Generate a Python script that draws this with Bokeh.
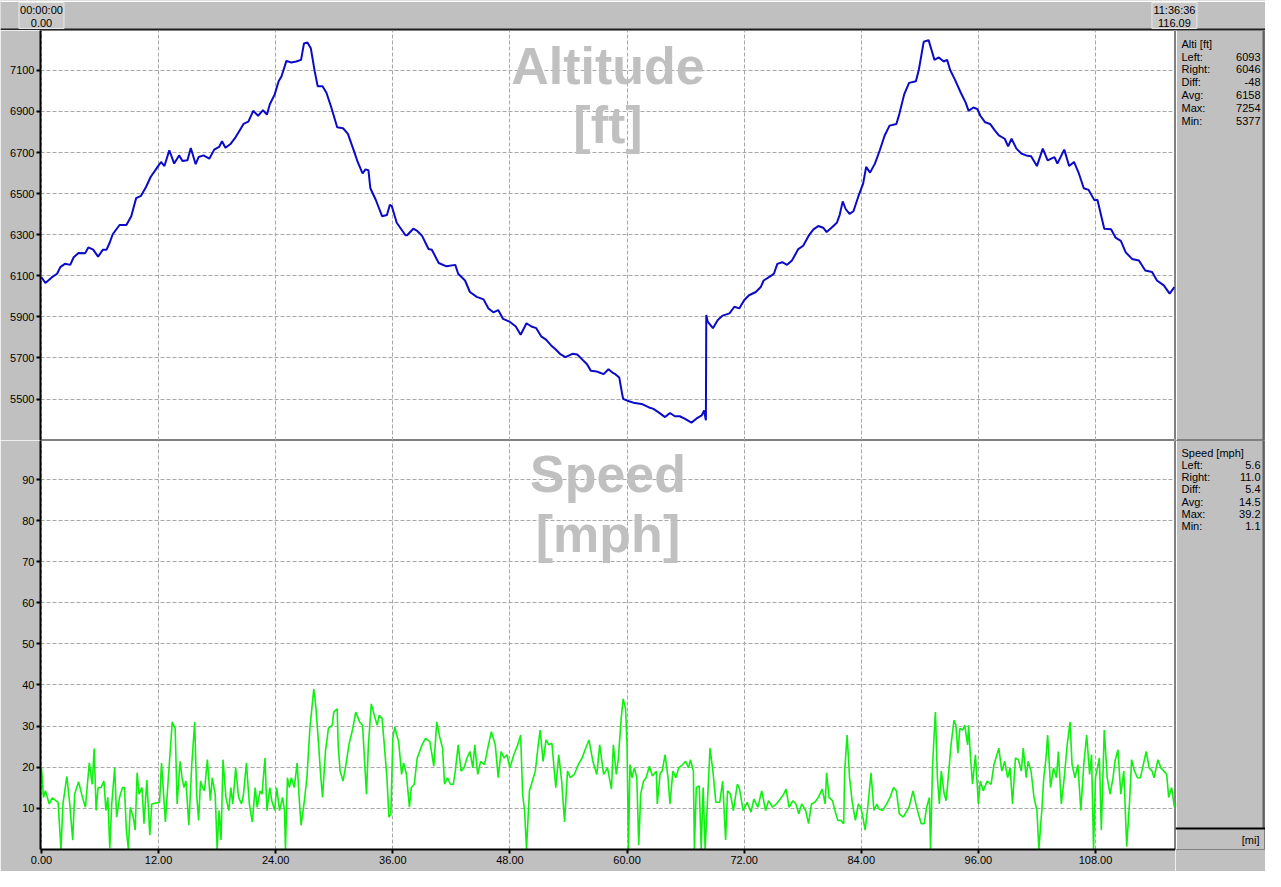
import numpy as np
from bokeh.plotting import figure
from bokeh.layouts import column, row
from bokeh.models import Range1d, FixedTicker, NumeralTickFormatter
from bokeh.core.properties import value
from bokeh.embed import file_html
from bokeh.resources import INLINE

# ---------------- data ----------------
alt_mi = [0.0, 0.4, 1.08, 1.6, 1.93, 2.4, 2.95, 3.3, 3.8, 4.47, 4.8, 5.3, 5.8, 6.3, 6.67, 7.0, 7.3, 8.0, 8.7, 9.2,
          9.7, 10.2, 10.7, 11.2, 11.9, 12.25, 12.6, 13.1, 13.6, 14.1, 14.45, 14.96, 15.3, 15.8, 16.1, 16.6, 17.2,
          17.7, 18.2, 18.5, 18.85, 19.4, 19.9, 20.4, 20.7, 21.2, 21.7, 22.2, 22.7, 23.1, 23.4, 23.9, 24.3, 24.6,
          25.1, 25.6, 26.1, 26.6, 26.9, 27.25, 27.6, 28.0, 28.3, 28.8, 29.2, 29.7, 30.3, 30.9, 31.4, 32.05, 32.4,
          32.9, 33.2, 33.5, 33.7, 34.25, 34.9, 35.4, 35.7, 35.9, 36.4, 37.3, 37.46, 38.1, 38.5, 39.0, 39.66, 40.0,
          40.7, 41.5, 42.4, 42.7, 43.4, 43.9, 44.6, 45.3, 45.8, 46.3, 46.8, 47.3, 47.95, 48.6, 49.1, 49.7, 50.2,
          50.7, 51.2, 51.7, 52.2, 52.7, 53.2, 53.7, 54.4, 54.9, 55.4, 55.9, 56.3, 56.9, 57.6, 58.1, 58.5, 58.8,
          59.2, 59.5, 59.6, 60.2, 60.8, 61.5, 62.2, 62.7, 63.2, 63.9, 64.4, 64.9, 65.4, 65.9, 66.6, 67.1, 67.65,
          67.9, 68.08, 68.12, 68.26, 68.8, 69.3, 69.8, 70.5, 71.0, 71.5, 72.0, 72.5, 73.2, 73.7, 74.0, 74.7, 75.05,
          75.4, 75.9, 76.4, 76.9, 77.55, 78.05, 78.6, 79.1, 79.6, 80.1, 80.45, 80.95, 81.5, 81.8, 82.1, 82.4, 82.8,
          83.2, 83.7, 84.2, 84.5, 84.9, 85.4, 85.9, 86.4, 86.9, 87.6, 87.9, 88.4, 88.9, 89.6, 89.9, 90.4, 90.9,
          91.3, 91.5, 91.95, 92.45, 92.8, 93.1, 93.6, 94.2, 94.7, 95.0, 95.5, 95.9, 96.2, 96.7, 97.2, 97.7, 98.1,
          98.7, 99.05, 99.4, 99.9, 100.4, 100.9, 101.4, 102.0, 102.6, 103.1, 103.8, 104.1, 104.8, 105.3, 105.8,
          106.3, 106.8, 107.3, 107.9, 108.2, 108.9, 109.6, 110.05, 110.6, 111.1, 111.75, 112.45, 113.1, 113.8,
          114.3, 115.0, 115.6, 116.09]
alt_ft = [6093, 6065, 6093, 6110, 6142, 6158, 6153, 6190, 6211, 6209, 6238, 6227, 6193, 6227, 6227, 6262, 6302,
          6347, 6347, 6390, 6478, 6489, 6531, 6582, 6630, 6654, 6634, 6711, 6646, 6686, 6659, 6662, 6722, 6643,
          6678, 6686, 6670, 6714, 6727, 6755, 6723, 6743, 6775, 6815, 6839, 6850, 6903, 6879, 6906, 6884, 6935,
          6983, 7047, 7071, 7146, 7138, 7143, 7151, 7231, 7236, 7207, 7095, 7023, 7023, 6991, 6919, 6823, 6818,
          6791, 6703, 6654, 6598, 6618, 6614, 6526, 6470, 6390, 6396, 6446, 6438, 6358, 6297, 6297, 6329, 6318,
          6294, 6230, 6227, 6162, 6146, 6153, 6110, 6077, 6021, 5997, 5985, 5941, 5922, 5933, 5890, 5877, 5853,
          5813, 5869, 5853, 5845, 5805, 5789, 5762, 5741, 5717, 5704, 5720, 5717, 5693, 5669, 5637, 5634, 5621,
          5645, 5629, 5621, 5605, 5525, 5501, 5489, 5480, 5476, 5460, 5452, 5436, 5412, 5432, 5416, 5416, 5404,
          5385, 5404, 5420, 5444, 5396, 5909, 5877, 5845, 5885, 5906, 5917, 5949, 5941, 5981, 6005, 6021, 6045,
          6077, 6098, 6110, 6158, 6166, 6153, 6174, 6230, 6246, 6294, 6326, 6342, 6334, 6313, 6334, 6358, 6398,
          6462, 6425, 6401, 6414, 6486, 6550, 6630, 6602, 6646, 6711, 6783, 6831, 6839, 6887, 6983, 7039, 7047,
          7103, 7239, 7247, 7183, 7151, 7163, 7143, 7151, 7103, 7055, 6991, 6943, 6903, 6919, 6911, 6879, 6847,
          6839, 6807, 6783, 6767, 6730, 6767, 6719, 6695, 6686, 6682, 6634, 6719, 6662, 6678, 6646, 6714, 6634,
          6654, 6598, 6526, 6518, 6467, 6470, 6329, 6326, 6286, 6270, 6214, 6182, 6174, 6126, 6118, 6077, 6053,
          6013, 6045]

spd_mi = [0.0, 0.2, 0.4, 0.8, 1.1, 1.7, 2.0, 2.2, 2.6, 2.9, 3.2, 3.4, 3.8, 4.2, 4.5, 4.9, 5.2, 5.4, 5.6, 5.8, 6.1,
          6.4, 6.6, 6.8, 7.0, 7.2, 7.5, 7.7, 8.0, 8.3, 8.5, 8.7, 8.9, 9.1, 9.4, 9.6, 9.8, 10.0, 10.3, 10.5, 10.8,
          11.1, 11.3, 11.7, 12.1, 12.3, 12.7, 13.0, 13.4, 13.7, 13.9, 14.2, 14.4, 14.6, 14.8, 15.1, 15.4, 15.7,
          15.9, 16.1, 16.3, 16.5, 16.7, 17.0, 17.3, 17.5, 17.8, 18.0, 18.2, 18.4, 18.6, 18.9, 19.2, 19.4, 19.6,
          19.9, 20.2, 20.5, 20.7, 21.0, 21.3, 21.6, 21.9, 22.1, 22.4, 22.6, 22.9, 23.1, 23.4, 23.6, 23.9, 24.1,
          24.4, 24.7, 24.9, 25.0, 25.2, 25.4, 25.6, 25.9, 26.2, 26.4, 26.6, 26.9, 27.2, 27.5, 27.9, 28.1, 28.4,
          28.6, 28.8, 29.1, 29.4, 29.8, 29.95, 30.3, 30.4, 30.6, 30.9, 31.2, 31.5, 31.9, 32.2, 32.6, 32.9, 33.3,
          33.5, 33.8, 34.1, 34.4, 34.6, 34.9, 35.1, 35.4, 35.6, 35.8, 36.0, 36.2, 36.4, 36.6, 36.9, 37.1, 37.4,
          37.7, 37.9, 38.2, 38.5, 39.0, 39.35, 39.8, 40.2, 40.5, 40.8, 41.1, 41.3, 41.6, 41.9, 42.2, 42.4, 42.7,
          43.0, 43.3, 43.6, 43.9, 44.2, 44.4, 44.7, 45.0, 45.4, 45.8, 46.1, 46.5, 46.8, 47.1, 47.4, 47.7, 48.0,
          48.4, 48.8, 49.1, 49.3, 49.5, 49.7, 50.0, 50.3, 50.6, 50.9, 51.1, 51.4, 51.7, 52.0, 52.3, 52.7, 53.0,
          53.3, 53.6, 53.9, 54.2, 54.6, 55.0, 55.4, 55.7, 56.1, 56.5, 56.9, 57.2, 57.6, 58.0, 58.4, 58.6, 58.9,
          59.1, 59.4, 59.6, 59.85, 60.0, 60.15, 60.3, 60.5, 60.75, 61.0, 61.2, 61.4, 61.7, 61.95, 62.3, 62.6, 63.0,
          63.1, 63.4, 63.6, 63.9, 64.2, 64.4, 64.7, 65.0, 65.3, 65.7, 66.0, 66.3, 66.5, 66.8, 66.9, 67.1, 67.4,
          67.6, 67.8, 68.0, 68.2, 68.5, 68.8, 69.1, 69.5, 69.8, 70.1, 70.3, 70.6, 70.9, 71.3, 71.5, 71.9, 72.3,
          72.7, 73.0, 73.4, 73.8, 74.2, 74.5, 74.9, 75.3, 75.7, 76.05, 76.3, 76.6, 77.0, 77.3, 77.6, 77.9, 78.3,
          78.6, 78.9, 79.25, 79.6, 80.0, 80.3, 80.45, 80.7, 81.05, 81.3, 81.6, 81.9, 82.2, 82.3, 82.55, 82.8,
          83.1, 83.4, 83.7, 83.95, 84.1, 84.4, 84.7, 85.0, 85.3, 85.6, 85.8, 86.2, 86.6, 86.95, 87.3, 87.6, 87.9,
          88.3, 88.7, 88.9, 89.3, 89.6, 89.85, 90.15, 90.45, 90.7, 90.98, 91.1, 91.3, 91.5, 91.6, 91.8, 92.0,
          92.2, 92.5, 92.7, 93.0, 93.2, 93.5, 93.7, 93.9, 94.1, 94.4, 94.6, 94.9, 95.0, 95.2, 95.4, 95.7, 96.0,
          96.2, 96.5, 96.9, 97.3, 97.6, 97.8, 98.1, 98.4, 98.7, 99.0, 99.25, 99.5, 99.8, 100.1, 100.4, 100.6,
          100.9, 101.1, 101.4, 101.7, 102.0, 102.2, 102.5, 102.7, 102.9, 103.1, 103.4, 103.7, 104.0, 104.2,
          104.5, 104.8, 105.1, 105.4, 105.6, 105.9, 106.2, 106.5, 106.8, 107.1, 107.4, 107.6, 107.8, 108.0,
          108.4, 108.6, 108.9, 109.2, 109.5, 109.8, 110.0, 110.3, 110.6, 110.9, 111.2, 111.5, 111.7, 112.0,
          112.3, 112.6, 112.9, 113.2, 113.5, 113.8, 114.0, 114.4, 114.7, 115.0, 115.3, 115.5, 115.8, 116.09]
spd_mph = [19.8, 12.6, 14.2, 11.0, 12.5, 11.4, 0.0, 11.0, 17.7, 11.0, 2.2, 13.4, 16.4, 12.6, 10.2, 21.0, 15.8,
           24.5, 9.4, 15.0, 15.0, 16.6, 9.4, 12.6, 0.2, 11.0, 19.8, 7.8, 12.6, 15.0, 15.0, 4.6, 0.0, 10.2, 7.8,
           4.6, 18.6, 13.4, 15.0, 6.2, 16.8, 3.4, 11.0, 11.2, 11.4, 21.0, 6.6, 17.4, 31.0, 29.4, 11.0, 21.4, 17.4,
           15.0, 16.6, 5.8, 20.6, 31.0, 13.4, 7.0, 16.6, 15.0, 14.2, 21.8, 11.8, 17.4, 13.4, 0.0, 9.4, 2.2, 21.8,
           12.6, 9.4, 15.0, 11.0, 19.8, 12.6, 11.0, 13.4, 21.0, 11.0, 6.6, 15.0, 10.2, 14.2, 13.4, 22.2, 9.4,
           15.0, 11.8, 9.4, 15.0, 9.4, 12.6, 9.4, 0.0, 17.4, 15.0, 17.4, 15.0, 21.0, 12.6, 5.8, 11.0, 17.4, 29.4,
           39.0, 35.0, 25.4, 18.2, 12.6, 23.8, 29.4, 30.2, 33.4, 34.2, 25.4, 19.0, 16.6, 20.6, 25.4, 29.4, 33.4,
           31.0, 30.2, 13.4, 25.4, 35.4, 32.6, 30.2, 32.6, 31.8, 26.2, 17.4, 7.8, 8.6, 27.0, 29.8, 27.8, 26.2,
           18.2, 21.0, 18.2, 10.2, 15.0, 15.8, 22.2, 25.4, 27.0, 26.2, 20.2, 31.0, 27.4, 24.6, 15.8, 17.4, 15.8,
           15.8, 19.0, 25.4, 19.0, 19.8, 22.2, 23.8, 19.8, 25.4, 18.2, 21.4, 20.6, 25.4, 28.6, 25.4, 17.4, 23.8,
           22.2, 23.0, 19.8, 23.0, 25.4, 27.8, 13.4, 9.4, 0.0, 14.2, 16.6, 19.0, 25.4, 29.0, 21.4, 26.6, 25.4,
           25.8, 15.0, 23.0, 16.6, 6.6, 19.0, 17.4, 18.2, 20.6, 22.2, 24.2, 26.6, 21.4, 18.2, 25.4, 18.2, 19.8,
           14.6, 25.4, 18.2, 21.8, 31.8, 36.6, 34.2, 25.4, 0.0, 20.6, 17.4, 19.8, 17.4, 1.0, 13.4, 16.6, 17.4,
           20.2, 17.8, 19.0, 11.0, 18.6, 19.0, 23.0, 17.4, 11.0, 19.0, 17.4, 19.8, 20.6, 21.4, 19.8, 21.8, 19.0,
           0.0, 15.0, 15.4, 0.0, 15.0, 0.0, 9.4, 24.6, 19.0, 11.4, 11.4, 16.6, 2.2, 14.2, 13.4, 9.4, 15.8, 15.0,
           9.4, 11.4, 9.0, 12.2, 10.2, 14.2, 9.4, 11.8, 10.2, 11.0, 12.2, 13.4, 14.6, 10.2, 11.8, 11.0, 8.6, 11.0,
           9.4, 6.2, 11.0, 11.4, 12.6, 14.6, 11.0, 18.6, 12.6, 11.8, 9.4, 7.0, 7.0, 6.2, 19.0, 27.8, 17.4, 11.0,
           7.0, 11.0, 10.2, 8.6, 4.6, 11.0, 18.6, 9.4, 11.0, 9.8, 9.4, 11.0, 12.6, 15.0, 14.2, 8.6, 7.8, 9.4,
           10.2, 14.2, 11.0, 8.6, 6.2, 6.2, 10.2, 12.6, 0.0, 19.8, 29.4, 33.4, 17.4, 11.0, 19.0, 13.4, 11.8, 19.8,
           25.4, 31.4, 30.2, 23.4, 29.4, 29.0, 30.2, 25.4, 30.2, 22.2, 15.8, 23.0, 11.0, 16.6, 14.2, 16.6, 15.8,
           20.6, 22.2, 24.6, 19.0, 21.4, 17.4, 19.8, 11.0, 22.2, 21.8, 19.0, 24.6, 17.4, 21.4, 19.0, 12.6, 9.4,
           0.0, 9.4, 17.4, 21.4, 27.8, 15.0, 19.8, 17.4, 23.8, 11.0, 17.4, 25.4, 31.0, 20.6, 17.4, 20.6, 9.4,
           20.6, 27.8, 18.2, 23.0, 0.0, 17.4, 22.2, 4.6, 29.0, 17.4, 13.4, 17.4, 21.4, 24.2, 13.4, 19.0, 0.6,
           11.8, 21.8, 19.0, 17.4, 17.4, 20.6, 23.8, 19.8, 19.0, 17.4, 21.8, 19.8, 19.0, 18.2, 12.6, 15.0, 10.2]

x_ticks = [0, 12, 24, 36, 48, 60, 72, 84, 96, 108]
alt_ticks = [5500, 5700, 5900, 6100, 6300, 6500, 6700, 6900, 7100]
spd_ticks = [10, 20, 30, 40, 50, 60, 70, 80, 90]

stat_names = ["Left:", "Right:", "Diff:", "Avg:", "Max:", "Min:"]
alt_stat_vals = ["6093", "6046", "-48", "6158", "7254", "5377"]
spd_stat_vals = ["5.6", "11.0", "5.4", "14.5", "39.2", "1.1"]
cursor_x = [0.0, 116.09]
cursor_time = ["00:00:00", "11:36:36"]
cursor_dist = ["0.00", "116.09"]

# ---------------- layout constants ----------------
W = 1265
LEFT = 40
RIGHT = 90
PW = W - LEFT - RIGHT
TOP_H = 30
ALT_H = 410
SPD_H = 409
AX_H = 22
GRAY = "#c0c0c0"
FONT = value("Liberation Sans")
X0, X1 = -0.1, 116.2

xr = Range1d(X0, X1)


def base_plot(height, yr, bottom):
    p = figure(width=LEFT + PW, height=height, x_range=xr, y_range=yr,
               x_axis_location="below" if bottom else None,
               toolbar_location=None, output_backend="svg", title=None,
               min_border_left=LEFT, min_border_right=0, min_border_top=0,
               min_border_bottom=bottom, background_fill_color="white",
               border_fill_color=GRAY, outline_line_color="#808080")
    p.yaxis.major_label_text_font = "Liberation Sans"
    p.yaxis.major_label_text_font_size = "11px"
    p.yaxis.major_label_text_color = "black"
    p.yaxis.axis_line_color = "black"
    p.yaxis.axis_line_width = 2
    p.yaxis.major_tick_line_color = "black"
    p.yaxis.major_tick_line_width = 2
    p.yaxis.major_tick_in = 0
    p.yaxis.major_tick_out = 4
    p.yaxis.minor_tick_line_color = None
    p.yaxis.major_label_standoff = 2
    p.grid.grid_line_color = "#a8a8a8"
    p.grid.grid_line_dash = "4 2"
    p.grid.grid_line_width = 1
    return p


# Altitude
pa = base_plot(ALT_H, Range1d(5298, 7294), 0)
pa.yaxis.ticker = FixedTicker(ticks=alt_ticks)
pa.xgrid.ticker = FixedTicker(ticks=x_ticks)
pa.line(alt_mi, alt_ft, line_color="#0a0ac8", line_width=2)
pa.text(x=[(X0 + X1) / 2], y=[7122], text=["Altitude"], text_font=FONT, text_font_style="bold",
        text_font_size="52px", text_color=GRAY, text_align="center", text_baseline="alphabetic")
pa.text(x=[(X0 + X1) / 2], y=[6832], text=["[ft]"], text_font=FONT, text_font_style="bold",
        text_font_size="52px", text_color=GRAY, text_align="center", text_baseline="alphabetic")

# Speed
ps = base_plot(SPD_H + AX_H, Range1d(-0.1, 99.6), AX_H)
ps.yaxis.ticker = FixedTicker(ticks=spd_ticks)
ps.xaxis.ticker = FixedTicker(ticks=x_ticks)
ps.xaxis.formatter = NumeralTickFormatter(format="0.00")
ps.xaxis.major_label_text_font = "Liberation Sans"
ps.xaxis.major_label_text_font_size = "11px"
ps.xaxis.major_label_text_color = "black"
ps.xaxis.axis_line_color = "black"
ps.xaxis.axis_line_width = 2
ps.xaxis.major_tick_line_color = "black"
ps.xaxis.major_tick_line_width = 2
ps.xaxis.major_tick_in = 0
ps.xaxis.major_tick_out = 4
ps.xaxis.minor_tick_line_color = None
ps.xaxis.major_label_standoff = 2
ps.line(spd_mi, spd_mph, line_color="#10f010", line_width=1.6)
ps.text(x=[(X0 + X1) / 2], y=[91.4], text=["Speed"], text_font=FONT, text_font_style="bold",
        text_font_size="52px", text_color=GRAY, text_align="center", text_baseline="alphabetic")
ps.text(x=[(X0 + X1) / 2], y=[76.9], text=["[mph]"], text_font=FONT, text_font_style="bold",
        text_font_size="52px", text_color=GRAY, text_align="center", text_baseline="alphabetic")


def stat_panel(height, title, vals, extra=None):
    q = figure(width=RIGHT, height=height, x_range=Range1d(0, RIGHT), y_range=Range1d(height, 0),
               x_axis_location=None, y_axis_location=None, toolbar_location=None,
               output_backend="svg", title=None, min_border=0,
               background_fill_color=GRAY, border_fill_color=GRAY, outline_line_color="#808080")
    q.grid.visible = False
    ys = [26 + 12.8 * i for i in range(len(stat_names))]
    q.text(x=[6], y=[13], text=[title], text_font=FONT, text_font_size="11px",
           text_color="black", text_align="left", text_baseline="middle")
    q.text(x=[6] * len(stat_names), y=ys, text=stat_names, text_font=FONT, text_font_size="11px",
           text_color="black", text_align="left", text_baseline="middle")
    q.text(x=[RIGHT - 5] * len(vals), y=ys, text=vals, text_font=FONT, text_font_size="11px",
           text_color="black", text_align="right", text_baseline="middle")
    q.segment(x0=[1], y0=[0], x1=[1], y1=[height], line_color="white", line_width=1)
    q.segment(x0=[RIGHT - 2], y0=[0], x1=[RIGHT - 2], y1=[height - (AX_H if extra else 0)],
              line_color="#606060", line_width=2)
    if extra:
        q.segment(x0=[0], y0=[height - AX_H], x1=[RIGHT], y1=[height - AX_H],
                  line_color="black", line_width=2)
        q.text(x=[RIGHT - 6], y=[height - AX_H / 2 + 1], text=[extra], text_font=FONT,
               text_font_size="11px", text_color="black", text_align="right", text_baseline="middle")
    return q


qa = stat_panel(ALT_H, "Alti [ft]", alt_stat_vals)
qs = stat_panel(SPD_H + AX_H, "Speed [mph]", spd_stat_vals, extra="[mi]")

# Top bar
k = (X1 - X0) / PW
pt = figure(width=W, height=TOP_H, x_range=Range1d(X0 - LEFT * k, X0 + (W - LEFT) * k),
            y_range=Range1d(TOP_H, 0), x_axis_location=None, y_axis_location=None,
            toolbar_location=None, output_backend="svg", title=None, min_border=0,
            background_fill_color=GRAY, border_fill_color=GRAY, outline_line_color=None)
pt.grid.visible = False
pt.segment(x0=[X0 - LEFT * k], y0=[TOP_H - 1], x1=[X0 + (W - LEFT) * k], y1=[TOP_H - 1],
           line_color="#202020", line_width=2)
pt.segment(x0=[X0 - LEFT * k], y0=[1], x1=[X0 + (W - LEFT) * k], y1=[1],
           line_color="white", line_width=1)
pt.rect(x=cursor_x, y=[15, 15], width=45, height=26, width_units="screen",
        fill_color="#c8c8c8", line_color="#e8e8e8", line_width=1)
pt.text(x=cursor_x, y=[9, 9], text=cursor_time, text_font=FONT, text_font_size="11px",
        text_color="black", text_align="center", text_baseline="middle")
pt.text(x=cursor_x, y=[22, 22], text=cursor_dist, text_font=FONT, text_font_size="11px",
        text_color="black", text_align="center", text_baseline="middle")

layout = column(pt, row(pa, qa), row(ps, qs))
open("out.html", "w").write(file_html(layout, INLINE))
